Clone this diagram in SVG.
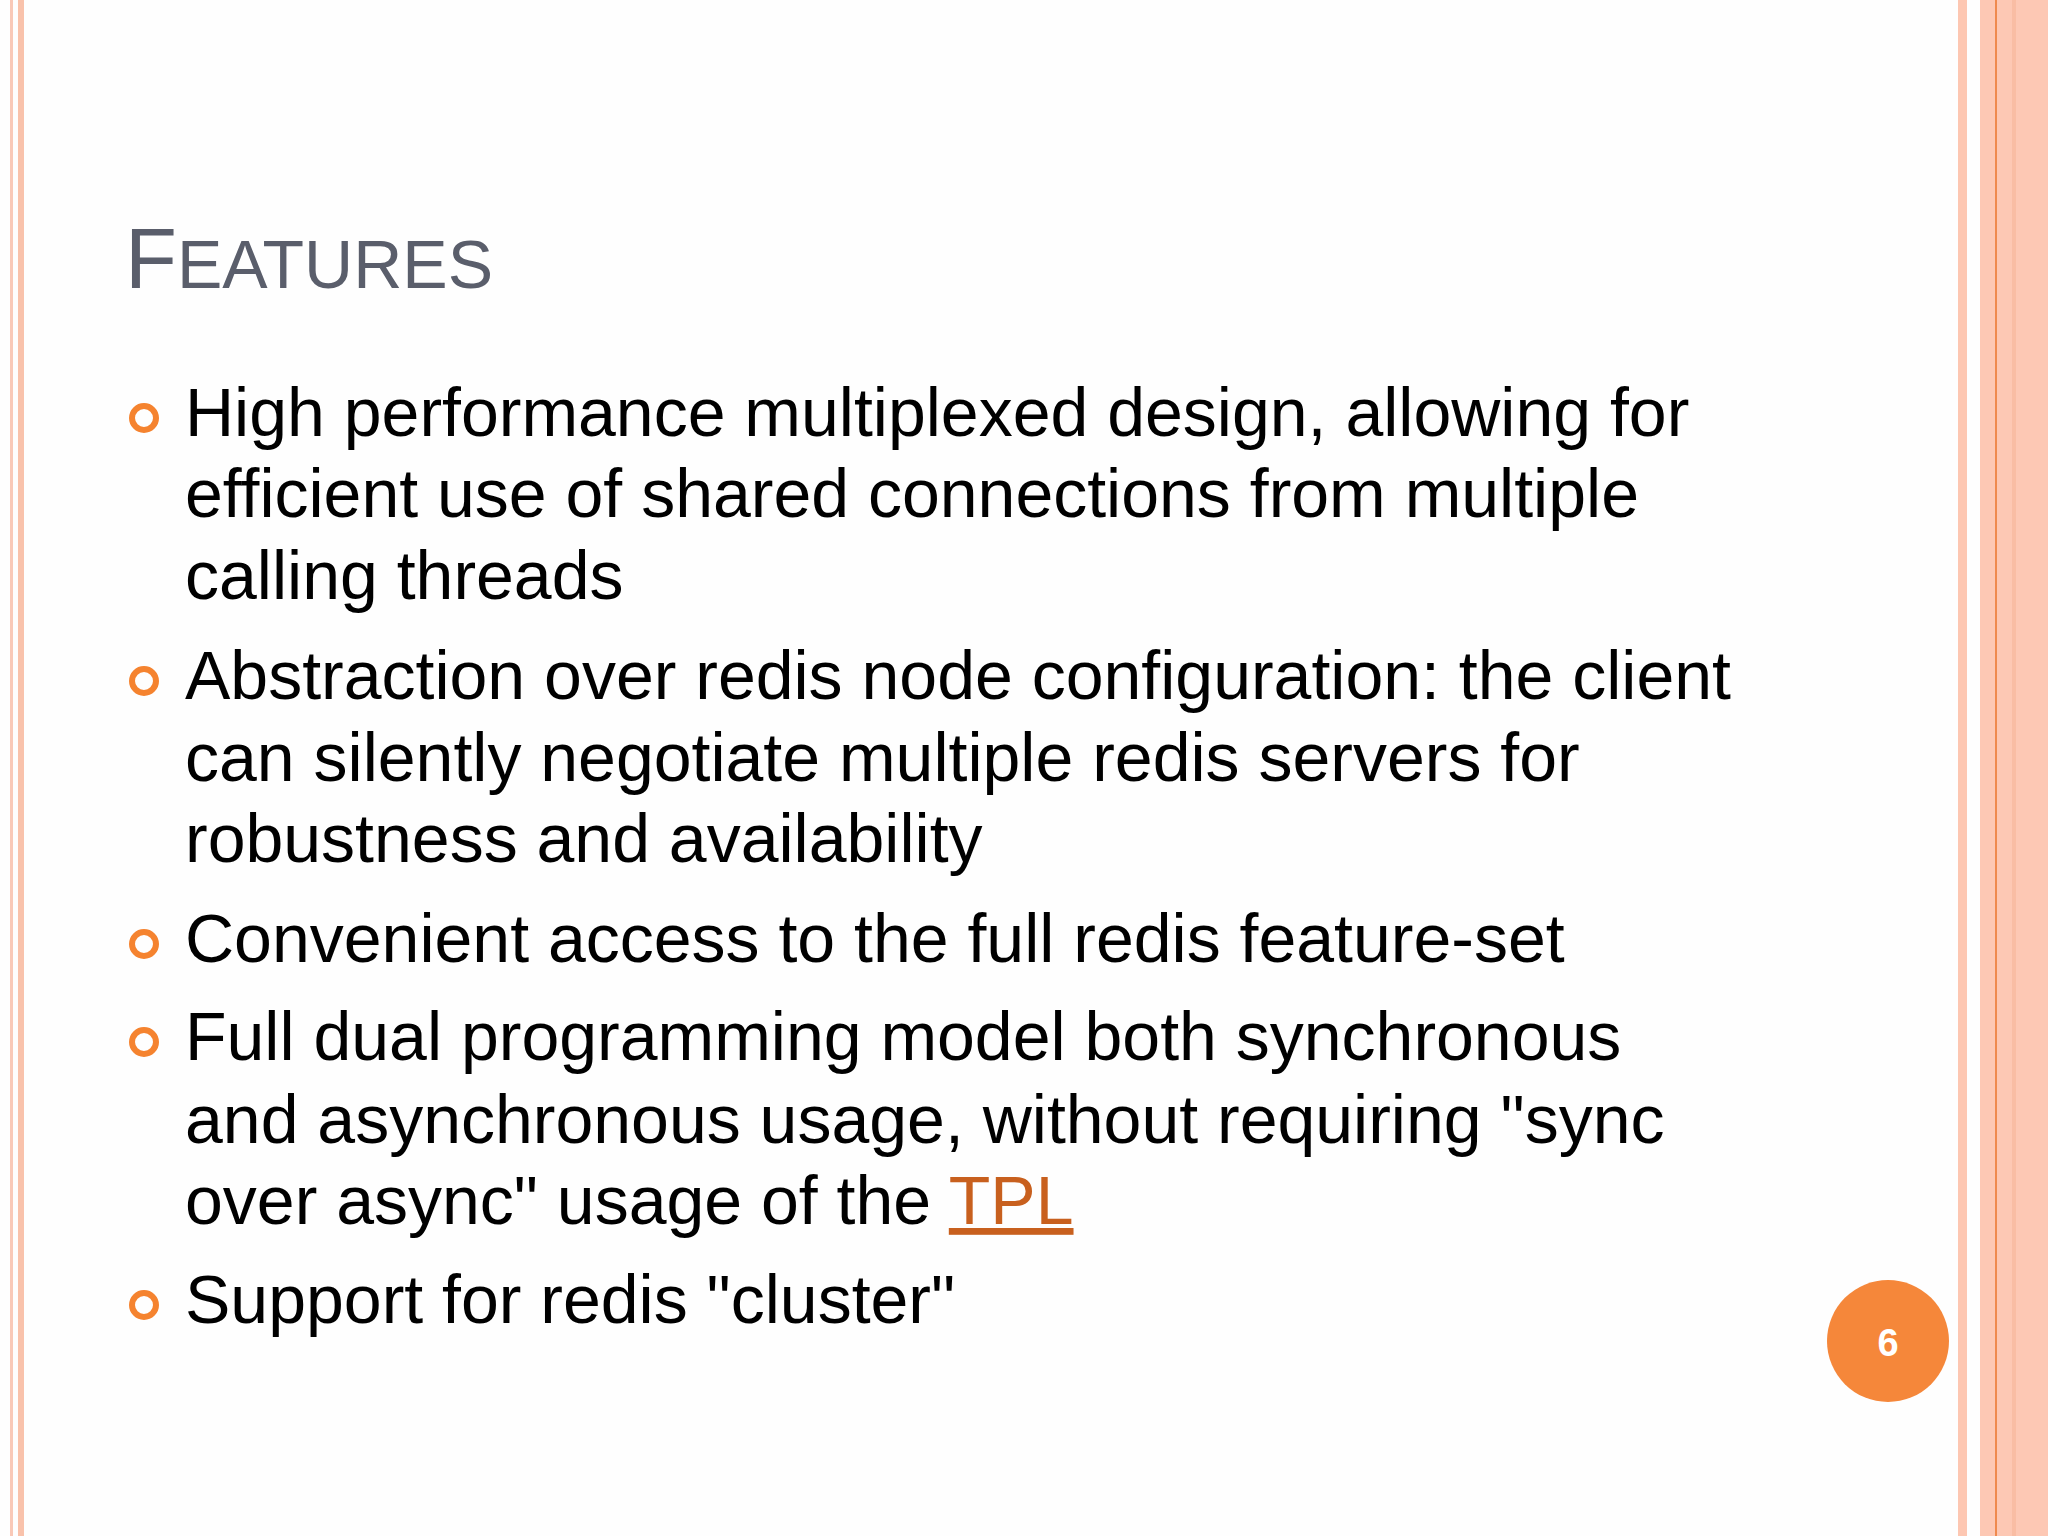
<svg xmlns="http://www.w3.org/2000/svg" width="2048" height="1536" viewBox="0 0 2048 1536">
<style>
.b{font-family:"Liberation Sans",Arial,sans-serif;font-size:68px;fill:#000}
.dot{fill:none;stroke:#f5832f;stroke-width:6}
</style>
<rect width="2048" height="1536" fill="#fefefe"/>
<g id="borders">
<rect x="10" y="0" width="3" height="1536" fill="#f9c9b8"/>
<rect x="18" y="0" width="6" height="1536" fill="#f9c2ab"/>
<rect x="1958" y="0" width="9" height="1536" fill="#fdc7b2"/>
<rect x="1980" y="0" width="68" height="1536" fill="#fdc8b4"/>
<rect x="1995" y="0" width="2" height="1536" fill="#ef8a4e"/>
<rect x="2012" y="0" width="4" height="1536" fill="#f9bda4"/>
</g>
<g id="title">
<text x="125" y="288" font-family="Liberation Sans,Arial,sans-serif" fill="#5a5e6b"><tspan font-size="85">F</tspan><tspan font-size="68">EATURES</tspan></text>
</g>
<g id="bullets">
<circle class="dot" cx="144" cy="418" r="12"/>
<circle class="dot" cx="144" cy="681" r="12"/>
<circle class="dot" cx="144" cy="944" r="12"/>
<circle class="dot" cx="144" cy="1042" r="12"/>
<circle class="dot" cx="144" cy="1305" r="12"/>
<text class="b" x="185" y="436">High performance multiplexed design, allowing for</text>
<text class="b" x="185" y="517">efficient use of shared connections from multiple</text>
<text class="b" x="185" y="599">calling threads</text>
<text class="b" x="185" y="699">Abstraction over redis node configuration: the client</text>
<text class="b" x="185" y="781">can silently negotiate multiple redis servers for</text>
<text class="b" x="185" y="862">robustness and availability</text>
<text class="b" x="185" y="962">Convenient access to the full redis feature-set</text>
<text class="b" x="185" y="1060">Full dual programming model both synchronous</text>
<text class="b" x="185" y="1143">and asynchronous usage, without requiring "sync</text>
<text class="b" x="185" y="1224">over async" usage of the <tspan fill="#c8601e" text-decoration="underline">TPL</tspan></text>
<text class="b" x="185" y="1323">Support for redis "cluster"</text>
</g>
<g id="page">
<circle cx="1888" cy="1341" r="61" fill="#f5873a"/>
<text x="1888" y="1356" text-anchor="middle" font-family="Liberation Sans,Arial,sans-serif" font-weight="bold" font-size="38" fill="#fff">6</text>
</g>
</svg>
